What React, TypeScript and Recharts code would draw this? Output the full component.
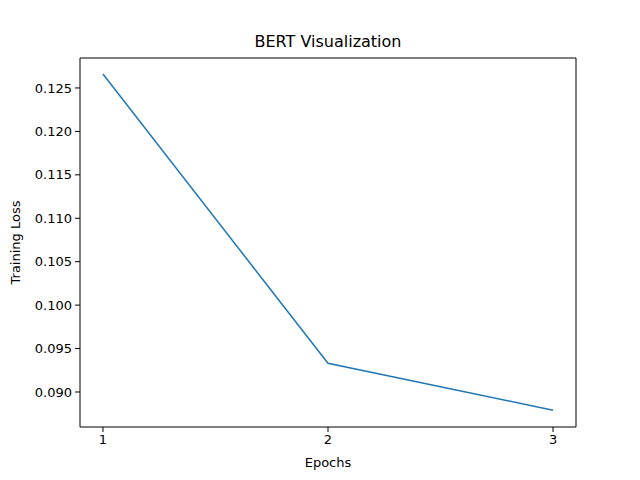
import React from 'react';
import { LineChart, Line, XAxis, YAxis, ReferenceLine } from 'recharts';

const epochs = [1, 2, 3];
const losses = [0.1266, 0.0933, 0.0879];
const yTicks = [0.09, 0.095, 0.1, 0.105, 0.11, 0.115, 0.12, 0.125];
const xTicks = [1, 2, 3];
const yDomain: [number, number] = [0.08597, 0.12845];
const xDomain: [number, number] = [0.898, 3.102];

const data = epochs.map((e, i) => ({ epoch: e, loss: losses[i] }));
const font = 'DejaVu Sans, sans-serif';

export default function App() {
  return (
    <div style={{ position: 'absolute', left: 0, top: 0, width: 640, height: 480, background: '#fff', fontFamily: font }}>
      <div style={{ position: 'absolute', top: 32, left: 80, width: 496, textAlign: 'center', fontSize: 16, color: '#000' }}>BERT Visualization</div>
      <LineChart width={640} height={480} data={data} margin={{ top: 58, right: 64, bottom: 0, left: 0 }}>
        <XAxis dataKey="epoch" type="number" domain={xDomain} ticks={xTicks}
          height={53} stroke="#000" tickSize={5} tickMargin={3}
          tick={{ fill: '#000', fontSize: 13, fontFamily: font }}
          label={{ value: 'Epochs', position: 'insideBottom', offset: 13, fill: '#000', fontSize: 13, fontFamily: font }} />
        <YAxis type="number" domain={yDomain} ticks={yTicks} width={80}
          stroke="#000" tickSize={5} tickMargin={3} tickFormatter={(v: number) => v.toFixed(3)}
          tick={{ fill: '#000', fontSize: 13, fontFamily: font }}
          label={{ value: 'Training Loss', angle: -90, position: 'insideLeft', offset: 15, fill: '#000', fontSize: 13, fontFamily: font, style: { textAnchor: 'middle' } }} />
        <ReferenceLine y={yDomain[1]} stroke="#000" ifOverflow="visible" />
        <ReferenceLine x={xDomain[1]} stroke="#000" ifOverflow="visible" />
        <Line dataKey="loss" stroke="#1f77b4" strokeWidth={1.5} dot={false} isAnimationActive={false} />
      </LineChart>
    </div>
  );
}
